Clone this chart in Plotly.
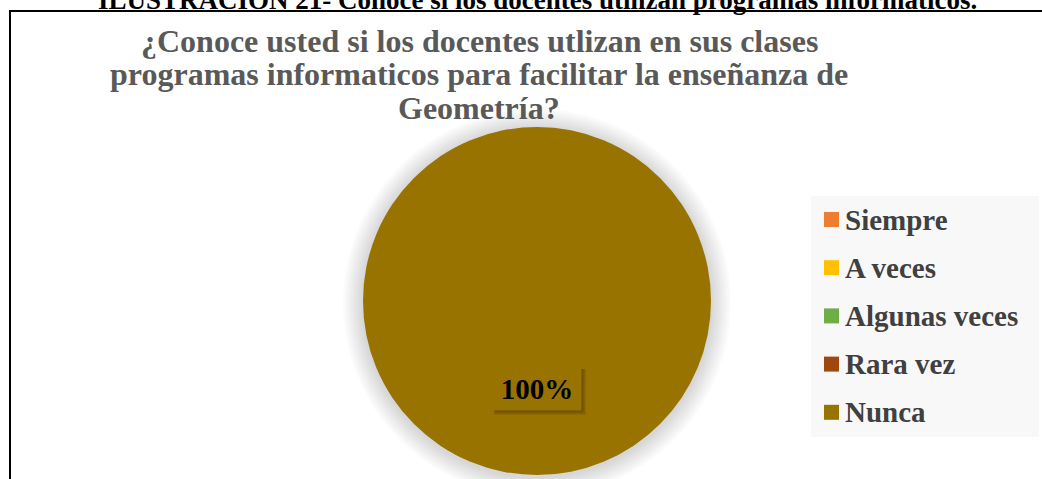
import plotly.graph_objects as go

# ---- data ----
categories = ["Siempre", "A veces", "Algunas veces", "Rara vez", "Nunca"]
values = [0, 0, 0, 0, 100]
colors = ["#ED7D31", "#FFC000", "#70AD47", "#9E480E", "#997300"]
title_lines = ["¿Conoce usted si los docentes utlizan en sus clases",
               "programas informaticos para facilitar la enseñanza de",
               "Geometría?"]
caption_text = "ILUSTRACIÓN 21- Conoce si los docentes utilizan programas informáticos."

W, H = 1042, 479
FONT = "Liberation Serif, Times New Roman, serif"


def px(x):
    return x / W


def py(y):
    return 1 - y / H


cx, cy, r = 537, 301, 174

fig = go.Figure()
fig.add_trace(go.Pie(
    labels=categories,
    values=values,
    marker=dict(colors=colors, line=dict(width=0)),
    sort=False,
    direction="clockwise",
    rotation=0,
    textinfo="none",
    showlegend=False,
    domain=dict(x=[px(cx - r), px(cx + r)], y=[py(cy + r), py(cy - r)]),
))

shapes = []
# soft glow behind pie
for k in range(10, 0, -1):
    rr = r + 2 * k
    shapes.append(dict(type="circle", xref="paper", yref="paper", layer="below",
                       x0=px(cx - rr), x1=px(cx + rr), y0=py(cy + 2 + rr), y1=py(cy + 2 - rr),
                       fillcolor="rgba(0,0,0,0.016)", line=dict(width=0)))

# frame border (left & top)
shapes.append(dict(type="path", xref="paper", yref="paper", layer="above",
                   path=f"M {px(10)},{py(490)} L {px(10)},{py(11)} L {px(1060)},{py(11)}",
                   line=dict(color="black", width=2)))

# legend background
shapes.append(dict(type="rect", xref="paper", yref="paper", layer="below",
                   x0=px(811), x1=px(1039), y0=py(437), y1=py(196),
                   fillcolor="#F8F8F8", line=dict(width=0)))

annotations = []
# manual legend
for i, (lab, col) in enumerate(zip(categories, colors)):
    yc = 219.5 + i * 48.2
    shapes.append(dict(type="rect", xref="paper", yref="paper", layer="above",
                       x0=px(824), x1=px(839), y0=py(yc + 7.5), y1=py(yc - 7.5),
                       fillcolor=col, line=dict(width=0)))
    annotations.append(dict(text=lab, xref="paper", yref="paper", x=px(843), y=py(yc),
                            xanchor="left", yanchor="middle", showarrow=False,
                            font=dict(family=FONT, size=29, color="#404040", weight="bold")))

# data label with soft shadow
total = sum(values)
for v, col in zip(values, colors):
    if v > 0:
        lx, ly = 537, 389
        for s in range(1, 6):
            shapes.append(dict(type="rect", xref="paper", yref="paper", layer="above",
                               x0=px(lx - 44 + 1), x1=px(lx + 44 + s),
                               y0=py(ly + 21 + s), y1=py(ly - 21 + 1),
                               fillcolor="rgba(0,0,0,0.07)", line=dict(width=0)))
        annotations.append(dict(text=f"{v / total * 100:.0f}%", xref="paper", yref="paper",
                                x=px(lx), y=py(ly), xanchor="center", yanchor="middle",
                                showarrow=False, bgcolor=col, width=82, height=36, borderpad=3,
                                font=dict(family=FONT, size=29, color="black", weight="bold")))

# chart title, one annotation per line
for i, line in enumerate(title_lines):
    annotations.append(dict(text=line, xref="paper", yref="paper", x=px(479), y=py(41 + i * 33.5),
                            xanchor="center", yanchor="middle", showarrow=False,
                            font=dict(family=FONT, size=32, color="#595959", weight="bold")))
# clipped caption
annotations.append(dict(text=caption_text, xref="paper", yref="paper", x=px(537), y=py(17),
                        xanchor="center", yanchor="bottom", showarrow=False,
                        font=dict(family=FONT, size=27, color="black", weight="bold")))

fig.update_layout(
    width=W, height=H,
    margin=dict(l=0, r=0, t=0, b=0),
    paper_bgcolor="white",
    plot_bgcolor="white",
    shapes=shapes,
    annotations=annotations,
)

fig.write_html("out.html")
